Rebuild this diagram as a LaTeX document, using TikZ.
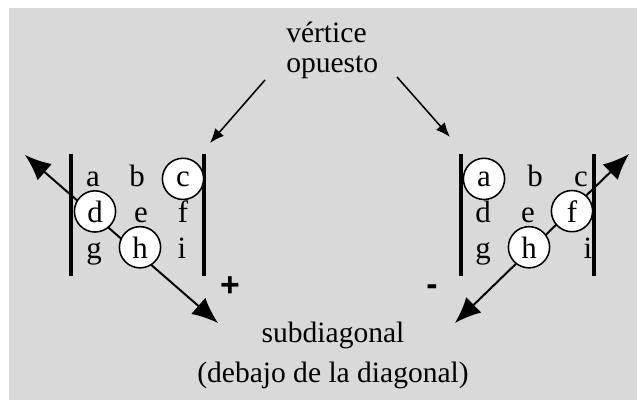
\documentclass[tikz,border=0pt]{standalone}
\usepackage{fontspec}
\setmainfont{Liberation Serif}
\setsansfont{Liberation Sans}
\usetikzlibrary{arrows.meta}
\definecolor{panelgray}{RGB}{217,217,217}
\tikzset{
  entry/.style={
    anchor=base,
    inner sep=0pt,
    font=\fontsize{22}{22}\selectfont
  },
  picked/.style={
    entry,
    circle,
    draw=black,
    line width=1.1pt,
    fill=white,
    minimum size=1.03cm
  },
  caption/.style={anchor=base, inner sep=0pt, font=\fontsize{21}{21}\selectfont},
  sign/.style={inner sep=0pt, font=\sffamily\bfseries\fontsize{24}{24}\selectfont},
  bar/.style={line width=2.2pt},
  diag/.style={{Latex[length=6.5mm,width=5.4mm]}-{Latex[length=6.5mm,width=5.4mm]}, line width=1.4pt},
  pointer/.style={-{Latex[length=3.6mm,width=2.9mm]}, line width=1.1pt}
}
\begin{document}
\begin{tikzpicture}[x=0.025cm,y=-0.025cm]
        \useasboundingbox (0,0) rectangle (637,400);
        \fill[panelgray] (9,8) rectangle (637,400);
        % texts
        \node[caption, anchor=base west] (vert) at (286,43) {vértice};
        \node[caption, anchor=base west] (opue) at (286,73) {opuesto};
        \node[caption] (subd) at (333,342) {subdiagonal};
        \node[caption] (deba) at (333,382) {(debajo de la diagonal)};
        \coordinate (ptl) at (265,80);
        \coordinate (ptr) at (397,77);
        \coordinate (tipl) at (210,143);
        \coordinate (tipr) at (450,137);
        \draw[pointer] (ptl) -- (tipl);
        \draw[pointer] (ptr) -- (tipr);
        % left determinant
        \coordinate (ltail) at (25,155);
        \coordinate (lhead) at (218,323);
        \draw[diag] (ltail) -- (lhead);
        \draw[bar] (71,154) coordinate (lbl1) -- (71,276) coordinate (lbl2);
        \draw[bar] (204,154) coordinate (lbr1) -- (204,276) coordinate (lbr2);
        \node[entry] (la) at (93,186) {a};
        \node[entry] (lb) at (137,186) {b};
        \node[picked] (lc) at (183,186) {c};
        \node[picked] (ld) at (95,222) {d};
        \node[entry] (le) at (141,222) {e};
        \node[entry] (lf) at (183,222) {f};
        \node[entry] (lg) at (94,258) {g};
        \node[picked] (lh) at (140,258) {h};
        \node[entry] (li) at (182,258) {i};
        \node[sign] (plus) at (230,287) {+};
        % right determinant
        \coordinate (rtail) at (629,154);
        \coordinate (rhead) at (455,323);
        \draw[diag] (rhead) -- (rtail);
        \draw[bar] (461,154) coordinate (rbl1) -- (461,276) coordinate (rbl2);
        \draw[bar] (594,154) coordinate (rbr1) -- (594,276) coordinate (rbr2);
        \node[picked] (ra) at (484,186) {a};
        \node[entry] (rb) at (535,186) {b};
        \node[entry] (rc) at (581,186) {c};
        \node[entry] (rd) at (483,222) {d};
        \node[entry] (re) at (528,222) {e};
        \node[picked] (rf) at (572,222) {f};
        \node[entry] (rg) at (483,258) {g};
        \node[picked] (rh) at (529,258) {h};
        \node[entry] (ri) at (588,258) {i};
        \node[sign] (minus) at (432,290) {-};
      \end{tikzpicture}
\end{document}
